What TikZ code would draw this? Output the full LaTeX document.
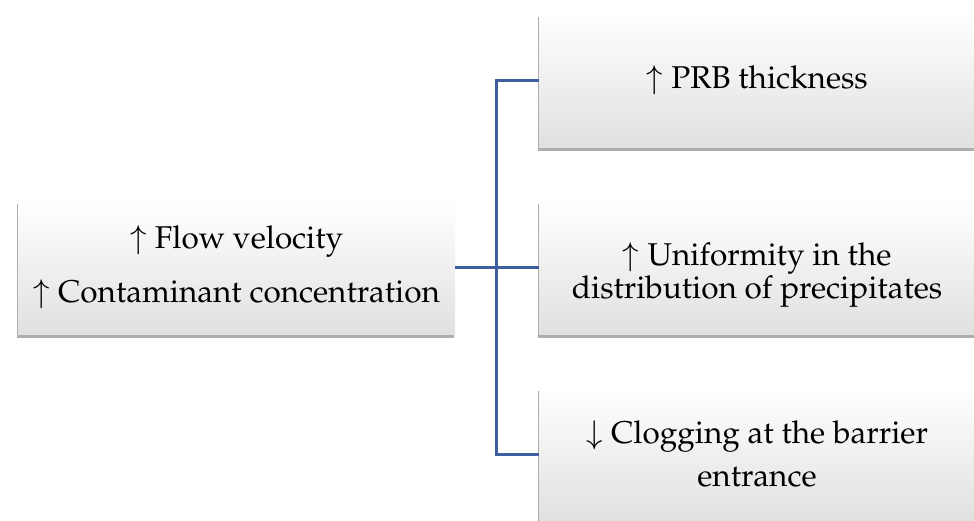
\documentclass[tikz,border=0pt]{standalone}
\usepackage[T1]{fontenc}
\usepackage{mathpazo}
\usetikzlibrary{shadows,positioning}
\definecolor{linkblue}{RGB}{63,94,160}

\begin{document}
\begin{tikzpicture}[x=1pt,y=-1pt]
\tikzstyle{effect}=[rectangle, minimum height=134pt, align=center, inner sep=0pt,
  top color=white, middle color=black!2, bottom color=black!12,
  drop shadow={shadow xshift=-1.5pt, shadow yshift=-4pt, opacity=0.4, fill=black!80},
  font=\fontsize{31.5}{34}\selectfont]
\tikzstyle{link}=[draw=linkblue, line width=3pt]
\useasboundingbox (0,0) rectangle (974,520);
\clip (0,0) rectangle (974,520);
  % cause on the left
  \node[effect, minimum width=437pt] (cause) at (236.5,267)
    {$\uparrow$ Flow velocity\\[20pt]$\uparrow$ Contaminant concentration};
  % effects on the right
  \node[effect, minimum width=436pt] (prb) at (757,80) {$\uparrow$ PRB thickness};
  \node[effect, minimum width=436pt] (unif) at (757,267)
    [label={[align=center, font=\fontsize{31.5}{33}\selectfont, yshift=-8pt]center:$\uparrow$ Uniformity in the\\distribution of precipitates}] {};
  \node[effect, minimum width=436pt] (clog) at (757,454)
    {$\downarrow$ Clogging at the barrier\\[9pt]entrance};
  \coordinate (fork) at (496,267);
  \path[link] (cause.east) -- (fork)
    (fork) |- (prb.west)
    (fork) -- (unif.west)
    (fork) |- (clog.west);
\end{tikzpicture}
\end{document}
